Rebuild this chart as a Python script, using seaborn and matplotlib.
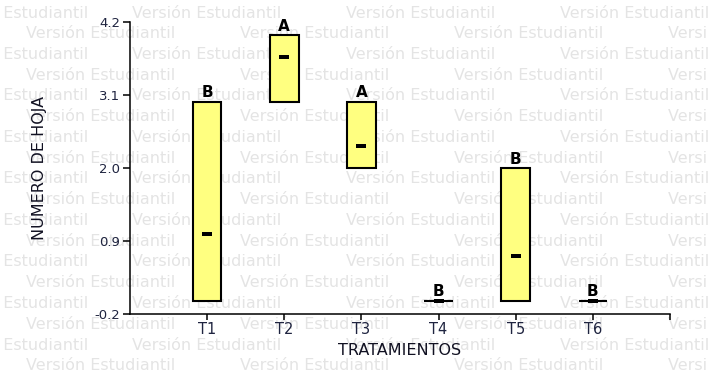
import matplotlib
matplotlib.use("Agg")
import matplotlib.pyplot as plt
import seaborn as sns

# Leaf counts per treatment: range (min..max), mean and Tukey group letters
treatments = ["T1", "T2", "T3", "T4", "T5", "T6"]
min_vals = [0.0, 3.0, 2.0, 0.0, 0.0, 0.0]
max_vals = [3.0, 4.0, 3.0, 0.0, 2.0, 0.0]
mean_vals = [1.0, 3.67, 2.33, 0.0, 0.67, 0.0]
group_letters = ["B", "A", "A", "B", "B", "B"]
y_ticks = [-0.2, 0.9, 2.0, 3.1, 4.2]

sns.set_theme(style="white")
plt.rcParams["font.family"] = ["DejaVu Sans"]

W, H = 708, 378
fig = plt.figure(figsize=(W / 100, H / 100), dpi=100)
fig.patch.set_facecolor("white")

# student-edition watermark rows behind the plot
row_h = 20.75
for k in range(19):
    y_px = 13 + row_h * k
    if k % 2 == 0:
        fig.text(88 / W, 1 - y_px / H, "Versión Estudiantil",
                 ha="right", va="center", fontsize=11.5,
                 color="#e4e4e4", zorder=-5)
        starts = [118, 332, 546]
    else:
        starts = [12, 226, 440, 654]
    for x_px in starts:
        fig.text((x_px + 89) / W, 1 - y_px / H, "Versión Estudiantil",
                 ha="center", va="center", fontsize=11.5,
                 color="#e4e4e4", zorder=-5)

ax = fig.add_axes([130 / W, 1 - 314 / H, 540 / W, 292 / H])
ax.patch.set_visible(False)

pos = list(range(1, len(treatments) + 1))
heights = [hi - lo for lo, hi in zip(min_vals, max_vals)]

ax.bar(pos, heights, bottom=min_vals, width=0.37, color="#ffff80",
       edgecolor="black", linewidth=1.5, zorder=2)

rect = [(-1, -0.55), (1, -0.55), (1, 0.55), (-1, 0.55), (-1, -0.55)]
sns.scatterplot(x=pos, y=mean_vals, marker=rect, s=42, color="black",
                linewidth=0, zorder=3, legend=False, ax=ax)

for p, top, lab in zip(pos, max_vals, group_letters):
    ax.annotate(lab, (p, top), xytext=(0, 1), textcoords="offset points",
                ha="center", va="bottom", fontsize=11, fontweight="bold",
                color="black", zorder=4)

ax.set_xlim(0, 7)
ax.set_ylim(-0.2, 4.2)
ax.set_xticks(pos + [7])
ax.set_xticklabels(treatments + [""])
ax.set_yticks(y_ticks)
ax.set_yticklabels([f"{v:.1f}" for v in y_ticks])

for side in ("top", "right"):
    ax.spines[side].set_visible(False)
for side in ("left", "bottom"):
    ax.spines[side].set_color("black")
    ax.spines[side].set_linewidth(1.1)

ax.tick_params(axis="y", direction="out", length=5, width=1.1,
               color="black", labelsize=9.5, labelcolor="#1f2440", pad=2,
               left=True)
ax.tick_params(axis="x", direction="out", length=4, width=1.1,
               color="black", labelsize=10.5, labelcolor="#1f2440", pad=2,
               bottom=True)

ax.set_ylabel("NUMERO DE HOJA", fontsize=11.5, color="#111122")
ax.yaxis.set_label_coords((47 - 130) / 540, 0.5)
ax.set_xlabel("TRATAMIENTOS", fontsize=11.5, color="#111122")
ax.xaxis.set_label_coords(0.5, -(343 - 314) / 292)

fig.savefig("out.png", dpi=100, facecolor="white")
